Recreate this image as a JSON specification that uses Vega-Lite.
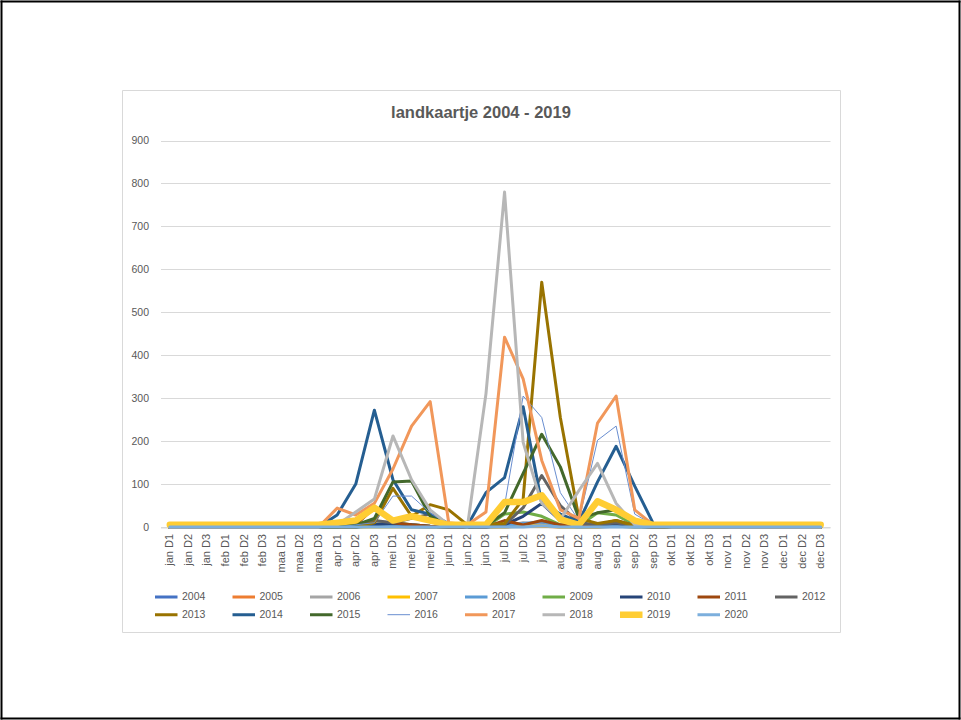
{
"$schema": "https://vega.github.io/schema/vega-lite/v6.json",
"autosize": "none",
"width": 718,
"height": 542,
"padding": {"left": 122, "top": 90, "right": 121, "bottom": 88},
"background": "white",
"config": {
  "font": "Liberation Sans",
  "view": {"stroke": "#D9D9D9", "strokeWidth": 1},
  "legend": {"orient": "none", "legendX": 33, "legendY": 501, "direction": "horizontal", "columns": 9, "symbolType": "M-2.8,0H2.8", "symbolSize": 100, "clipHeight": 12, "labelFontSize": 10.5, "labelColor": "#595959", "labelFont": "Liberation Sans", "columnPadding": 26.5, "rowPadding": 5.7, "gridAlign": "all", "labelOffset": 10, "title": null}
},
"title": {"text": "landkaartje 2004 - 2019", "fontSize": 16.5, "fontWeight": "bold", "color": "#595959", "font": "Liberation Sans", "anchor": "middle", "frame": "group", "offset": -135, "baseline": "alphabetic"},
"data": {"values": [
{"p":"jan D1","s":"2004","v":0},{"p":"jan D2","s":"2004","v":0},{"p":"jan D3","s":"2004","v":0},{"p":"feb D1","s":"2004","v":0},{"p":"feb D2","s":"2004","v":0},{"p":"feb D3","s":"2004","v":0},{"p":"maa D1","s":"2004","v":0},{"p":"maa D2","s":"2004","v":0},{"p":"maa D3","s":"2004","v":0},
{"p":"apr D1","s":"2004","v":0},{"p":"apr D2","s":"2004","v":0},{"p":"apr D3","s":"2004","v":2},{"p":"mei D1","s":"2004","v":3},{"p":"mei D2","s":"2004","v":2},{"p":"mei D3","s":"2004","v":0},{"p":"jun D1","s":"2004","v":0},{"p":"jun D2","s":"2004","v":0},{"p":"jun D3","s":"2004","v":0},
{"p":"jul D1","s":"2004","v":2},{"p":"jul D2","s":"2004","v":5},{"p":"jul D3","s":"2004","v":8},{"p":"aug D1","s":"2004","v":3},{"p":"aug D2","s":"2004","v":0},{"p":"aug D3","s":"2004","v":0},{"p":"sep D1","s":"2004","v":2},{"p":"sep D2","s":"2004","v":0},{"p":"sep D3","s":"2004","v":0},
{"p":"okt D1","s":"2004","v":0},{"p":"okt D2","s":"2004","v":0},{"p":"okt D3","s":"2004","v":0},{"p":"nov D1","s":"2004","v":0},{"p":"nov D2","s":"2004","v":0},{"p":"nov D3","s":"2004","v":0},{"p":"dec D1","s":"2004","v":0},{"p":"dec D2","s":"2004","v":0},{"p":"dec D3","s":"2004","v":0},

{"p":"jan D1","s":"2005","v":0},{"p":"jan D2","s":"2005","v":0},{"p":"jan D3","s":"2005","v":0},{"p":"feb D1","s":"2005","v":0},{"p":"feb D2","s":"2005","v":0},{"p":"feb D3","s":"2005","v":0},{"p":"maa D1","s":"2005","v":0},{"p":"maa D2","s":"2005","v":0},{"p":"maa D3","s":"2005","v":0},
{"p":"apr D1","s":"2005","v":0},{"p":"apr D2","s":"2005","v":5},{"p":"apr D3","s":"2005","v":15},{"p":"mei D1","s":"2005","v":5},{"p":"mei D2","s":"2005","v":2},{"p":"mei D3","s":"2005","v":0},{"p":"jun D1","s":"2005","v":0},{"p":"jun D2","s":"2005","v":0},{"p":"jun D3","s":"2005","v":0},
{"p":"jul D1","s":"2005","v":0},{"p":"jul D2","s":"2005","v":3},{"p":"jul D3","s":"2005","v":2},{"p":"aug D1","s":"2005","v":0},{"p":"aug D2","s":"2005","v":0},{"p":"aug D3","s":"2005","v":0},{"p":"sep D1","s":"2005","v":5},{"p":"sep D2","s":"2005","v":2},{"p":"sep D3","s":"2005","v":0},
{"p":"okt D1","s":"2005","v":0},{"p":"okt D2","s":"2005","v":0},{"p":"okt D3","s":"2005","v":0},{"p":"nov D1","s":"2005","v":0},{"p":"nov D2","s":"2005","v":0},{"p":"nov D3","s":"2005","v":0},{"p":"dec D1","s":"2005","v":0},{"p":"dec D2","s":"2005","v":0},{"p":"dec D3","s":"2005","v":0},

{"p":"jan D1","s":"2006","v":0},{"p":"jan D2","s":"2006","v":0},{"p":"jan D3","s":"2006","v":0},{"p":"feb D1","s":"2006","v":0},{"p":"feb D2","s":"2006","v":0},{"p":"feb D3","s":"2006","v":0},{"p":"maa D1","s":"2006","v":0},{"p":"maa D2","s":"2006","v":0},{"p":"maa D3","s":"2006","v":0},
{"p":"apr D1","s":"2006","v":0},{"p":"apr D2","s":"2006","v":3},{"p":"apr D3","s":"2006","v":10},{"p":"mei D1","s":"2006","v":5},{"p":"mei D2","s":"2006","v":3},{"p":"mei D3","s":"2006","v":0},{"p":"jun D1","s":"2006","v":0},{"p":"jun D2","s":"2006","v":0},{"p":"jun D3","s":"2006","v":0},
{"p":"jul D1","s":"2006","v":2},{"p":"jul D2","s":"2006","v":10},{"p":"jul D3","s":"2006","v":5},{"p":"aug D1","s":"2006","v":0},{"p":"aug D2","s":"2006","v":0},{"p":"aug D3","s":"2006","v":3},{"p":"sep D1","s":"2006","v":2},{"p":"sep D2","s":"2006","v":0},{"p":"sep D3","s":"2006","v":0},
{"p":"okt D1","s":"2006","v":0},{"p":"okt D2","s":"2006","v":0},{"p":"okt D3","s":"2006","v":0},{"p":"nov D1","s":"2006","v":0},{"p":"nov D2","s":"2006","v":0},{"p":"nov D3","s":"2006","v":0},{"p":"dec D1","s":"2006","v":0},{"p":"dec D2","s":"2006","v":0},{"p":"dec D3","s":"2006","v":0},

{"p":"jan D1","s":"2007","v":0},{"p":"jan D2","s":"2007","v":0},{"p":"jan D3","s":"2007","v":0},{"p":"feb D1","s":"2007","v":0},{"p":"feb D2","s":"2007","v":0},{"p":"feb D3","s":"2007","v":0},{"p":"maa D1","s":"2007","v":0},{"p":"maa D2","s":"2007","v":0},{"p":"maa D3","s":"2007","v":0},
{"p":"apr D1","s":"2007","v":0},{"p":"apr D2","s":"2007","v":0},{"p":"apr D3","s":"2007","v":0},{"p":"mei D1","s":"2007","v":0},{"p":"mei D2","s":"2007","v":0},{"p":"mei D3","s":"2007","v":0},{"p":"jun D1","s":"2007","v":0},{"p":"jun D2","s":"2007","v":0},{"p":"jun D3","s":"2007","v":0},
{"p":"jul D1","s":"2007","v":0},{"p":"jul D2","s":"2007","v":2},{"p":"jul D3","s":"2007","v":3},{"p":"aug D1","s":"2007","v":0},{"p":"aug D2","s":"2007","v":0},{"p":"aug D3","s":"2007","v":0},{"p":"sep D1","s":"2007","v":3},{"p":"sep D2","s":"2007","v":0},{"p":"sep D3","s":"2007","v":0},
{"p":"okt D1","s":"2007","v":0},{"p":"okt D2","s":"2007","v":0},{"p":"okt D3","s":"2007","v":0},{"p":"nov D1","s":"2007","v":0},{"p":"nov D2","s":"2007","v":0},{"p":"nov D3","s":"2007","v":0},{"p":"dec D1","s":"2007","v":0},{"p":"dec D2","s":"2007","v":0},{"p":"dec D3","s":"2007","v":0},

{"p":"jan D1","s":"2008","v":0},{"p":"jan D2","s":"2008","v":0},{"p":"jan D3","s":"2008","v":0},{"p":"feb D1","s":"2008","v":0},{"p":"feb D2","s":"2008","v":0},{"p":"feb D3","s":"2008","v":0},{"p":"maa D1","s":"2008","v":0},{"p":"maa D2","s":"2008","v":0},{"p":"maa D3","s":"2008","v":0},
{"p":"apr D1","s":"2008","v":0},{"p":"apr D2","s":"2008","v":0},{"p":"apr D3","s":"2008","v":3},{"p":"mei D1","s":"2008","v":2},{"p":"mei D2","s":"2008","v":0},{"p":"mei D3","s":"2008","v":0},{"p":"jun D1","s":"2008","v":0},{"p":"jun D2","s":"2008","v":0},{"p":"jun D3","s":"2008","v":0},
{"p":"jul D1","s":"2008","v":3},{"p":"jul D2","s":"2008","v":8},{"p":"jul D3","s":"2008","v":12},{"p":"aug D1","s":"2008","v":4},{"p":"aug D2","s":"2008","v":0},{"p":"aug D3","s":"2008","v":2},{"p":"sep D1","s":"2008","v":5},{"p":"sep D2","s":"2008","v":0},{"p":"sep D3","s":"2008","v":0},
{"p":"okt D1","s":"2008","v":0},{"p":"okt D2","s":"2008","v":0},{"p":"okt D3","s":"2008","v":0},{"p":"nov D1","s":"2008","v":0},{"p":"nov D2","s":"2008","v":0},{"p":"nov D3","s":"2008","v":0},{"p":"dec D1","s":"2008","v":0},{"p":"dec D2","s":"2008","v":0},{"p":"dec D3","s":"2008","v":0},

{"p":"jan D1","s":"2009","v":0},{"p":"jan D2","s":"2009","v":0},{"p":"jan D3","s":"2009","v":0},{"p":"feb D1","s":"2009","v":0},{"p":"feb D2","s":"2009","v":0},{"p":"feb D3","s":"2009","v":0},{"p":"maa D1","s":"2009","v":0},{"p":"maa D2","s":"2009","v":0},{"p":"maa D3","s":"2009","v":0},
{"p":"apr D1","s":"2009","v":0},{"p":"apr D2","s":"2009","v":0},{"p":"apr D3","s":"2009","v":5},{"p":"mei D1","s":"2009","v":10},{"p":"mei D2","s":"2009","v":5},{"p":"mei D3","s":"2009","v":2},{"p":"jun D1","s":"2009","v":0},{"p":"jun D2","s":"2009","v":0},{"p":"jun D3","s":"2009","v":0},
{"p":"jul D1","s":"2009","v":30},{"p":"jul D2","s":"2009","v":35},{"p":"jul D3","s":"2009","v":25},{"p":"aug D1","s":"2009","v":5},{"p":"aug D2","s":"2009","v":3},{"p":"aug D3","s":"2009","v":33},{"p":"sep D1","s":"2009","v":28},{"p":"sep D2","s":"2009","v":5},{"p":"sep D3","s":"2009","v":0},
{"p":"okt D1","s":"2009","v":0},{"p":"okt D2","s":"2009","v":0},{"p":"okt D3","s":"2009","v":0},{"p":"nov D1","s":"2009","v":0},{"p":"nov D2","s":"2009","v":0},{"p":"nov D3","s":"2009","v":0},{"p":"dec D1","s":"2009","v":0},{"p":"dec D2","s":"2009","v":0},{"p":"dec D3","s":"2009","v":0},

{"p":"jan D1","s":"2010","v":0},{"p":"jan D2","s":"2010","v":0},{"p":"jan D3","s":"2010","v":0},{"p":"feb D1","s":"2010","v":0},{"p":"feb D2","s":"2010","v":0},{"p":"feb D3","s":"2010","v":0},{"p":"maa D1","s":"2010","v":0},{"p":"maa D2","s":"2010","v":0},{"p":"maa D3","s":"2010","v":0},
{"p":"apr D1","s":"2010","v":0},{"p":"apr D2","s":"2010","v":0},{"p":"apr D3","s":"2010","v":5},{"p":"mei D1","s":"2010","v":8},{"p":"mei D2","s":"2010","v":5},{"p":"mei D3","s":"2010","v":2},{"p":"jun D1","s":"2010","v":0},{"p":"jun D2","s":"2010","v":0},{"p":"jun D3","s":"2010","v":0},
{"p":"jul D1","s":"2010","v":5},{"p":"jul D2","s":"2010","v":25},{"p":"jul D3","s":"2010","v":55},{"p":"aug D1","s":"2010","v":15},{"p":"aug D2","s":"2010","v":3},{"p":"aug D3","s":"2010","v":5},{"p":"sep D1","s":"2010","v":8},{"p":"sep D2","s":"2010","v":2},{"p":"sep D3","s":"2010","v":0},
{"p":"okt D1","s":"2010","v":0},{"p":"okt D2","s":"2010","v":0},{"p":"okt D3","s":"2010","v":0},{"p":"nov D1","s":"2010","v":0},{"p":"nov D2","s":"2010","v":0},{"p":"nov D3","s":"2010","v":0},{"p":"dec D1","s":"2010","v":0},{"p":"dec D2","s":"2010","v":0},{"p":"dec D3","s":"2010","v":0},

{"p":"jan D1","s":"2011","v":0},{"p":"jan D2","s":"2011","v":0},{"p":"jan D3","s":"2011","v":0},{"p":"feb D1","s":"2011","v":0},{"p":"feb D2","s":"2011","v":0},{"p":"feb D3","s":"2011","v":0},{"p":"maa D1","s":"2011","v":0},{"p":"maa D2","s":"2011","v":0},{"p":"maa D3","s":"2011","v":0},
{"p":"apr D1","s":"2011","v":0},{"p":"apr D2","s":"2011","v":5},{"p":"apr D3","s":"2011","v":45},{"p":"mei D1","s":"2011","v":10},{"p":"mei D2","s":"2011","v":5},{"p":"mei D3","s":"2011","v":2},{"p":"jun D1","s":"2011","v":0},{"p":"jun D2","s":"2011","v":0},{"p":"jun D3","s":"2011","v":0},
{"p":"jul D1","s":"2011","v":15},{"p":"jul D2","s":"2011","v":5},{"p":"jul D3","s":"2011","v":15},{"p":"aug D1","s":"2011","v":5},{"p":"aug D2","s":"2011","v":3},{"p":"aug D3","s":"2011","v":5},{"p":"sep D1","s":"2011","v":15},{"p":"sep D2","s":"2011","v":3},{"p":"sep D3","s":"2011","v":0},
{"p":"okt D1","s":"2011","v":0},{"p":"okt D2","s":"2011","v":0},{"p":"okt D3","s":"2011","v":0},{"p":"nov D1","s":"2011","v":0},{"p":"nov D2","s":"2011","v":0},{"p":"nov D3","s":"2011","v":0},{"p":"dec D1","s":"2011","v":0},{"p":"dec D2","s":"2011","v":0},{"p":"dec D3","s":"2011","v":0},

{"p":"jan D1","s":"2012","v":0},{"p":"jan D2","s":"2012","v":0},{"p":"jan D3","s":"2012","v":0},{"p":"feb D1","s":"2012","v":0},{"p":"feb D2","s":"2012","v":0},{"p":"feb D3","s":"2012","v":0},{"p":"maa D1","s":"2012","v":0},{"p":"maa D2","s":"2012","v":0},{"p":"maa D3","s":"2012","v":0},
{"p":"apr D1","s":"2012","v":0},{"p":"apr D2","s":"2012","v":0},{"p":"apr D3","s":"2012","v":15},{"p":"mei D1","s":"2012","v":10},{"p":"mei D2","s":"2012","v":20},{"p":"mei D3","s":"2012","v":30},{"p":"jun D1","s":"2012","v":5},{"p":"jun D2","s":"2012","v":0},{"p":"jun D3","s":"2012","v":0},
{"p":"jul D1","s":"2012","v":5},{"p":"jul D2","s":"2012","v":45},{"p":"jul D3","s":"2012","v":120},{"p":"aug D1","s":"2012","v":50},{"p":"aug D2","s":"2012","v":10},{"p":"aug D3","s":"2012","v":5},{"p":"sep D1","s":"2012","v":10},{"p":"sep D2","s":"2012","v":2},{"p":"sep D3","s":"2012","v":0},
{"p":"okt D1","s":"2012","v":0},{"p":"okt D2","s":"2012","v":0},{"p":"okt D3","s":"2012","v":0},{"p":"nov D1","s":"2012","v":0},{"p":"nov D2","s":"2012","v":0},{"p":"nov D3","s":"2012","v":0},{"p":"dec D1","s":"2012","v":0},{"p":"dec D2","s":"2012","v":0},{"p":"dec D3","s":"2012","v":0},

{"p":"jan D1","s":"2013","v":0},{"p":"jan D2","s":"2013","v":0},{"p":"jan D3","s":"2013","v":0},{"p":"feb D1","s":"2013","v":0},{"p":"feb D2","s":"2013","v":0},{"p":"feb D3","s":"2013","v":0},{"p":"maa D1","s":"2013","v":0},{"p":"maa D2","s":"2013","v":0},{"p":"maa D3","s":"2013","v":0},
{"p":"apr D1","s":"2013","v":0},{"p":"apr D2","s":"2013","v":0},{"p":"apr D3","s":"2013","v":10},{"p":"mei D1","s":"2013","v":90},{"p":"mei D2","s":"2013","v":25},{"p":"mei D3","s":"2013","v":52},{"p":"jun D1","s":"2013","v":40},{"p":"jun D2","s":"2013","v":5},{"p":"jun D3","s":"2013","v":5},
{"p":"jul D1","s":"2013","v":8},{"p":"jul D2","s":"2013","v":65},{"p":"jul D3","s":"2013","v":570},{"p":"aug D1","s":"2013","v":255},{"p":"aug D2","s":"2013","v":20},{"p":"aug D3","s":"2013","v":8},{"p":"sep D1","s":"2013","v":15},{"p":"sep D2","s":"2013","v":3},{"p":"sep D3","s":"2013","v":0},
{"p":"okt D1","s":"2013","v":0},{"p":"okt D2","s":"2013","v":0},{"p":"okt D3","s":"2013","v":0},{"p":"nov D1","s":"2013","v":0},{"p":"nov D2","s":"2013","v":0},{"p":"nov D3","s":"2013","v":0},{"p":"dec D1","s":"2013","v":0},{"p":"dec D2","s":"2013","v":0},{"p":"dec D3","s":"2013","v":0},

{"p":"jan D1","s":"2014","v":0},{"p":"jan D2","s":"2014","v":0},{"p":"jan D3","s":"2014","v":0},{"p":"feb D1","s":"2014","v":0},{"p":"feb D2","s":"2014","v":0},{"p":"feb D3","s":"2014","v":0},{"p":"maa D1","s":"2014","v":0},{"p":"maa D2","s":"2014","v":0},{"p":"maa D3","s":"2014","v":0},
{"p":"apr D1","s":"2014","v":28},{"p":"apr D2","s":"2014","v":100},{"p":"apr D3","s":"2014","v":272},{"p":"mei D1","s":"2014","v":110},{"p":"mei D2","s":"2014","v":40},{"p":"mei D3","s":"2014","v":30},{"p":"jun D1","s":"2014","v":8},{"p":"jun D2","s":"2014","v":3},{"p":"jun D3","s":"2014","v":80},
{"p":"jul D1","s":"2014","v":115},{"p":"jul D2","s":"2014","v":280},{"p":"jul D3","s":"2014","v":55},{"p":"aug D1","s":"2014","v":30},{"p":"aug D2","s":"2014","v":12},{"p":"aug D3","s":"2014","v":105},{"p":"sep D1","s":"2014","v":188},{"p":"sep D2","s":"2014","v":95},{"p":"sep D3","s":"2014","v":8},
{"p":"okt D1","s":"2014","v":0},{"p":"okt D2","s":"2014","v":0},{"p":"okt D3","s":"2014","v":0},{"p":"nov D1","s":"2014","v":0},{"p":"nov D2","s":"2014","v":0},{"p":"nov D3","s":"2014","v":0},{"p":"dec D1","s":"2014","v":0},{"p":"dec D2","s":"2014","v":0},{"p":"dec D3","s":"2014","v":0},

{"p":"jan D1","s":"2015","v":0},{"p":"jan D2","s":"2015","v":0},{"p":"jan D3","s":"2015","v":0},{"p":"feb D1","s":"2015","v":0},{"p":"feb D2","s":"2015","v":0},{"p":"feb D3","s":"2015","v":0},{"p":"maa D1","s":"2015","v":0},{"p":"maa D2","s":"2015","v":0},{"p":"maa D3","s":"2015","v":0},
{"p":"apr D1","s":"2015","v":0},{"p":"apr D2","s":"2015","v":5},{"p":"apr D3","s":"2015","v":20},{"p":"mei D1","s":"2015","v":105},{"p":"mei D2","s":"2015","v":107},{"p":"mei D3","s":"2015","v":25},{"p":"jun D1","s":"2015","v":5},{"p":"jun D2","s":"2015","v":0},{"p":"jun D3","s":"2015","v":3},
{"p":"jul D1","s":"2015","v":33},{"p":"jul D2","s":"2015","v":125},{"p":"jul D3","s":"2015","v":216},{"p":"aug D1","s":"2015","v":140},{"p":"aug D2","s":"2015","v":20},{"p":"aug D3","s":"2015","v":33},{"p":"sep D1","s":"2015","v":40},{"p":"sep D2","s":"2015","v":10},{"p":"sep D3","s":"2015","v":3},
{"p":"okt D1","s":"2015","v":0},{"p":"okt D2","s":"2015","v":0},{"p":"okt D3","s":"2015","v":0},{"p":"nov D1","s":"2015","v":0},{"p":"nov D2","s":"2015","v":0},{"p":"nov D3","s":"2015","v":0},{"p":"dec D1","s":"2015","v":0},{"p":"dec D2","s":"2015","v":0},{"p":"dec D3","s":"2015","v":0},

{"p":"jan D1","s":"2016","v":0},{"p":"jan D2","s":"2016","v":0},{"p":"jan D3","s":"2016","v":0},{"p":"feb D1","s":"2016","v":0},{"p":"feb D2","s":"2016","v":0},{"p":"feb D3","s":"2016","v":0},{"p":"maa D1","s":"2016","v":0},{"p":"maa D2","s":"2016","v":0},{"p":"maa D3","s":"2016","v":0},
{"p":"apr D1","s":"2016","v":0},{"p":"apr D2","s":"2016","v":5},{"p":"apr D3","s":"2016","v":10},{"p":"mei D1","s":"2016","v":72},{"p":"mei D2","s":"2016","v":72},{"p":"mei D3","s":"2016","v":33},{"p":"jun D1","s":"2016","v":5},{"p":"jun D2","s":"2016","v":3},{"p":"jun D3","s":"2016","v":5},
{"p":"jul D1","s":"2016","v":50},{"p":"jul D2","s":"2016","v":305},{"p":"jul D3","s":"2016","v":255},{"p":"aug D1","s":"2016","v":80},{"p":"aug D2","s":"2016","v":15},{"p":"aug D3","s":"2016","v":202},{"p":"sep D1","s":"2016","v":235},{"p":"sep D2","s":"2016","v":30},{"p":"sep D3","s":"2016","v":5},
{"p":"okt D1","s":"2016","v":0},{"p":"okt D2","s":"2016","v":0},{"p":"okt D3","s":"2016","v":0},{"p":"nov D1","s":"2016","v":0},{"p":"nov D2","s":"2016","v":0},{"p":"nov D3","s":"2016","v":0},{"p":"dec D1","s":"2016","v":0},{"p":"dec D2","s":"2016","v":0},{"p":"dec D3","s":"2016","v":0},

{"p":"jan D1","s":"2017","v":0},{"p":"jan D2","s":"2017","v":0},{"p":"jan D3","s":"2017","v":0},{"p":"feb D1","s":"2017","v":0},{"p":"feb D2","s":"2017","v":0},{"p":"feb D3","s":"2017","v":0},{"p":"maa D1","s":"2017","v":0},{"p":"maa D2","s":"2017","v":0},{"p":"maa D3","s":"2017","v":0},
{"p":"apr D1","s":"2017","v":44},{"p":"apr D2","s":"2017","v":28},{"p":"apr D3","s":"2017","v":55},{"p":"mei D1","s":"2017","v":135},{"p":"mei D2","s":"2017","v":235},{"p":"mei D3","s":"2017","v":292},{"p":"jun D1","s":"2017","v":10},{"p":"jun D2","s":"2017","v":5},{"p":"jun D3","s":"2017","v":35},
{"p":"jul D1","s":"2017","v":442},{"p":"jul D2","s":"2017","v":345},{"p":"jul D3","s":"2017","v":155},{"p":"aug D1","s":"2017","v":40},{"p":"aug D2","s":"2017","v":20},{"p":"aug D3","s":"2017","v":242},{"p":"sep D1","s":"2017","v":305},{"p":"sep D2","s":"2017","v":40},{"p":"sep D3","s":"2017","v":5},
{"p":"okt D1","s":"2017","v":0},{"p":"okt D2","s":"2017","v":0},{"p":"okt D3","s":"2017","v":0},{"p":"nov D1","s":"2017","v":0},{"p":"nov D2","s":"2017","v":0},{"p":"nov D3","s":"2017","v":0},{"p":"dec D1","s":"2017","v":0},{"p":"dec D2","s":"2017","v":0},{"p":"dec D3","s":"2017","v":0},

{"p":"jan D1","s":"2018","v":0},{"p":"jan D2","s":"2018","v":0},{"p":"jan D3","s":"2018","v":0},{"p":"feb D1","s":"2018","v":0},{"p":"feb D2","s":"2018","v":0},{"p":"feb D3","s":"2018","v":0},{"p":"maa D1","s":"2018","v":0},{"p":"maa D2","s":"2018","v":0},{"p":"maa D3","s":"2018","v":0},
{"p":"apr D1","s":"2018","v":5},{"p":"apr D2","s":"2018","v":35},{"p":"apr D3","s":"2018","v":65},{"p":"mei D1","s":"2018","v":212},{"p":"mei D2","s":"2018","v":110},{"p":"mei D3","s":"2018","v":40},{"p":"jun D1","s":"2018","v":5},{"p":"jun D2","s":"2018","v":0},{"p":"jun D3","s":"2018","v":310},
{"p":"jul D1","s":"2018","v":780},{"p":"jul D2","s":"2018","v":197},{"p":"jul D3","s":"2018","v":55},{"p":"aug D1","s":"2018","v":18},{"p":"aug D2","s":"2018","v":85},{"p":"aug D3","s":"2018","v":148},{"p":"sep D1","s":"2018","v":55},{"p":"sep D2","s":"2018","v":5},{"p":"sep D3","s":"2018","v":3},
{"p":"okt D1","s":"2018","v":0},{"p":"okt D2","s":"2018","v":0},{"p":"okt D3","s":"2018","v":0},{"p":"nov D1","s":"2018","v":0},{"p":"nov D2","s":"2018","v":0},{"p":"nov D3","s":"2018","v":0},{"p":"dec D1","s":"2018","v":0},{"p":"dec D2","s":"2018","v":0},{"p":"dec D3","s":"2018","v":0},

{"p":"jan D1","s":"2019","v":5},{"p":"jan D2","s":"2019","v":5},{"p":"jan D3","s":"2019","v":5},{"p":"feb D1","s":"2019","v":5},{"p":"feb D2","s":"2019","v":5},{"p":"feb D3","s":"2019","v":5},{"p":"maa D1","s":"2019","v":5},{"p":"maa D2","s":"2019","v":5},{"p":"maa D3","s":"2019","v":5},
{"p":"apr D1","s":"2019","v":10},{"p":"apr D2","s":"2019","v":15},{"p":"apr D3","s":"2019","v":45},{"p":"mei D1","s":"2019","v":15},{"p":"mei D2","s":"2019","v":25},{"p":"mei D3","s":"2019","v":15},{"p":"jun D1","s":"2019","v":5},{"p":"jun D2","s":"2019","v":5},{"p":"jun D3","s":"2019","v":5},
{"p":"jul D1","s":"2019","v":58},{"p":"jul D2","s":"2019","v":58},{"p":"jul D3","s":"2019","v":74},{"p":"aug D1","s":"2019","v":18},{"p":"aug D2","s":"2019","v":5},{"p":"aug D3","s":"2019","v":60},{"p":"sep D1","s":"2019","v":40},{"p":"sep D2","s":"2019","v":15},{"p":"sep D3","s":"2019","v":5},
{"p":"okt D1","s":"2019","v":5},{"p":"okt D2","s":"2019","v":5},{"p":"okt D3","s":"2019","v":5},{"p":"nov D1","s":"2019","v":5},{"p":"nov D2","s":"2019","v":5},{"p":"nov D3","s":"2019","v":5},{"p":"dec D1","s":"2019","v":5},{"p":"dec D2","s":"2019","v":5},{"p":"dec D3","s":"2019","v":5},

{"p":"jan D1","s":"2020","v":0},{"p":"jan D2","s":"2020","v":0},{"p":"jan D3","s":"2020","v":0},{"p":"feb D1","s":"2020","v":0},{"p":"feb D2","s":"2020","v":0},{"p":"feb D3","s":"2020","v":0},{"p":"maa D1","s":"2020","v":0},{"p":"maa D2","s":"2020","v":0},{"p":"maa D3","s":"2020","v":0},
{"p":"apr D1","s":"2020","v":0},{"p":"apr D2","s":"2020","v":0},{"p":"apr D3","s":"2020","v":0},{"p":"mei D1","s":"2020","v":0},{"p":"mei D2","s":"2020","v":0},{"p":"mei D3","s":"2020","v":0},{"p":"jun D1","s":"2020","v":0},{"p":"jun D2","s":"2020","v":0},{"p":"jun D3","s":"2020","v":0},
{"p":"jul D1","s":"2020","v":0},{"p":"jul D2","s":"2020","v":0},{"p":"jul D3","s":"2020","v":3},{"p":"aug D1","s":"2020","v":0},{"p":"aug D2","s":"2020","v":0},{"p":"aug D3","s":"2020","v":0},{"p":"sep D1","s":"2020","v":0},{"p":"sep D2","s":"2020","v":0},{"p":"sep D3","s":"2020","v":0},
{"p":"okt D1","s":"2020","v":0},{"p":"okt D2","s":"2020","v":0},{"p":"okt D3","s":"2020","v":0},{"p":"nov D1","s":"2020","v":0},{"p":"nov D2","s":"2020","v":0},{"p":"nov D3","s":"2020","v":0},{"p":"dec D1","s":"2020","v":0},{"p":"dec D2","s":"2020","v":0},{"p":"dec D3","s":"2020","v":0}
]},
"layer": [
{
"mark": {"type": "line", "strokeJoin": "round", "strokeCap": "round"},
"encoding": {
  "x": {"field": "p", "type": "ordinal",
    "sort": ["jan D1","jan D2","jan D3","feb D1","feb D2","feb D3","maa D1","maa D2","maa D3","apr D1","apr D2","apr D3","mei D1","mei D2","mei D3","jun D1","jun D2","jun D3","jul D1","jul D2","jul D3","aug D1","aug D2","aug D3","sep D1","sep D2","sep D3","okt D1","okt D2","okt D3","nov D1","nov D2","nov D3","dec D1","dec D2","dec D3"],
    "scale": {"type": "point", "range": [38.5, 708], "padding": 0.5},
    "axis": {"title": null, "orient": "bottom", "offset": -104.5, "labelAngle": -90, "labelPadding": 6, "labelFontSize": 11, "labelColor": "#595959", "labelFont": "Liberation Sans", "ticks": false, "domainColor": "#D9D9D9", "domainWidth": 1, "grid": false}},
  "y": {"field": "v", "type": "quantitative",
    "scale": {"domain": [0, 900], "range": [437, 50.5], "nice": false},
    "axis": {"title": null, "orient": "left", "offset": -38.5, "values": [0,100,200,300,400,500,600,700,800,900], "domain": false, "ticks": false, "labelPadding": 12, "labelFontSize": 10.5, "labelColor": "#595959", "labelFont": "Liberation Sans", "gridColor": "#D9D9D9", "gridWidth": 1}},
  "color": {"field": "s", "type": "nominal",
    "scale": {"domain": ["2004","2005","2006","2007","2008","2009","2010","2011","2012","2013","2014","2015","2016","2017","2018","2019","2020"],
      "range": ["#4472C4","#ED7D31","#A5A5A5","#FFC000","#5B9BD5","#70AD47","#264478","#9E480E","#636363","#997300","#255E91","#43682B","#698ED0","#F1975A","#B7B7B7","#FFCD33","#7CAFDD"]},
    "legend": {"title": null}},
  "strokeWidth": {"field": "s", "type": "nominal",
    "scale": {"type": "ordinal", "domain": ["2004","2005","2006","2007","2008","2009","2010","2011","2012","2013","2014","2015","2016","2017","2018","2019","2020"],
      "range": [3,3,3,3,3,3,3,3,3,3,3,3,1,3,3,6.5,3]},
    "legend": {"title": null}}
}
},
{
"mark": {"type": "line", "opacity": 0, "clip": true},
"encoding": {
  "x": {"field": "p", "type": "ordinal",
    "sort": ["jan D1","jan D2","jan D3","feb D1","feb D2","feb D3","maa D1","maa D2","maa D3","apr D1","apr D2","apr D3","mei D1","mei D2","mei D3","jun D1","jun D2","jun D3","jul D1","jul D2","jul D3","aug D1","aug D2","aug D3","sep D1","sep D2","sep D3","okt D1","okt D2","okt D3","nov D1","nov D2","nov D3","dec D1","dec D2","dec D3"],
    "scale": {"type": "point", "range": [-121, 837], "padding": 0},
    "axis": {"title": null, "orient": "bottom", "offset": -632, "values": ["jan D1", "dec D3"], "labels": false, "domain": false, "grid": false, "ticks": true, "tickSize": 719, "tickColor": "#000000", "tickWidth": 2}},
  "y": {"field": "v", "type": "quantitative",
    "scale": {"domain": [0, 1], "range": [628, -89], "nice": false, "zero": false},
    "axis": {"title": null, "orient": "right", "offset": -840, "values": [0, 1], "labels": false, "domain": false, "grid": false, "ticks": true, "tickSize": 960, "tickColor": "#000000", "tickWidth": 2}}
}
}
],
"resolve": {"scale": {"x": "independent", "y": "independent"}, "axis": {"x": "independent", "y": "independent"}}
}
